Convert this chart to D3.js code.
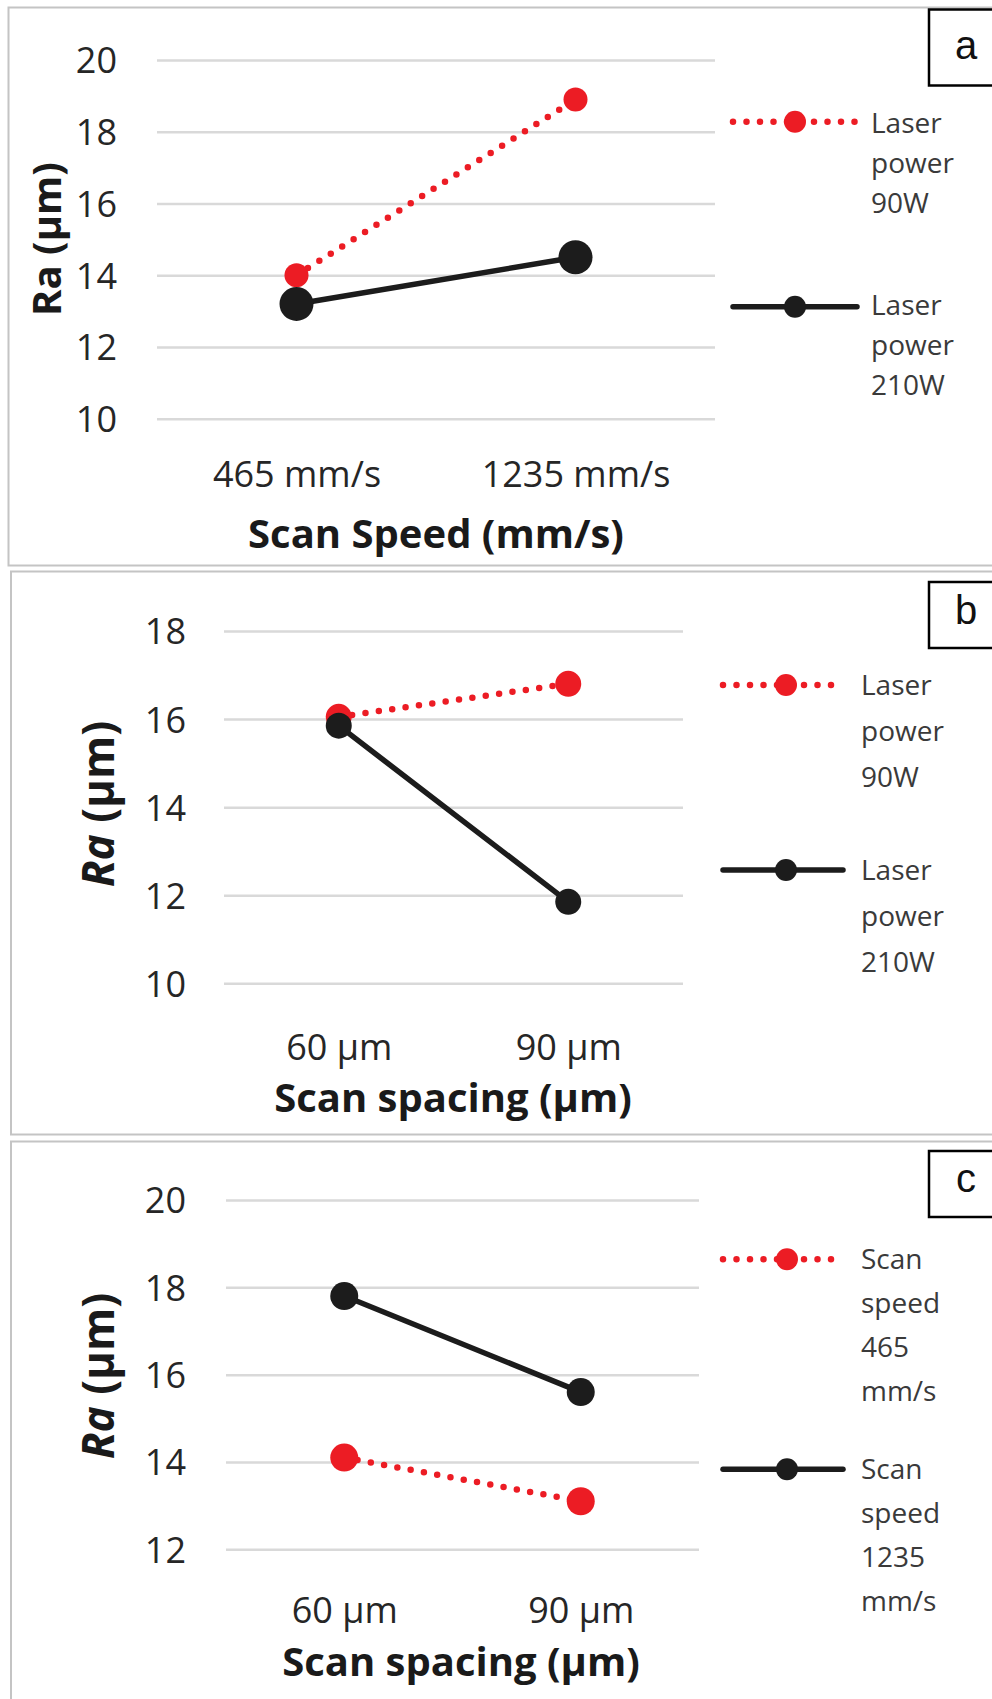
<!DOCTYPE html>
<html>
<head>
<meta charset="utf-8">
<script src="https://cdn.jsdelivr.net/npm/d3@7"></script>
<style>
  html, body { margin: 0; padding: 0; background: #fff; }
  svg { display: block; }
</style>
</head>
<body>
<svg id="fig" width="992" height="1699"></svg>
<script>
// ---- Panel (a): surface roughness vs scan speed ----
const speedCats = ["465 mm/s", "1235 mm/s"];
const ticksA = [10, 12, 14, 16, 18, 20];
const aPower90 = [14.0, 18.9];
const aPower210 = [13.2, 14.5];
const legendA = [["Laser", "power", "90W"], ["Laser", "power", "210W"]];

// ---- Panel (b): surface roughness vs scan spacing, by laser power ----
const spacingCats = ["60 µm", "90 µm"];
const ticksB = [10, 12, 14, 16, 18];
const bPower90 = [16.05, 16.8];
const bPower210 = [15.85, 11.85];
const legendB = [["Laser", "power", "90W"], ["Laser", "power", "210W"]];

// ---- Panel (c): surface roughness vs scan spacing, by scan speed ----
const ticksC = [12, 14, 16, 18, 20];
const cSpeed465 = [14.1, 13.1];
const cSpeed1235 = [17.8, 15.6];
const legendC = [["Scan", "speed", "465", "mm/s"], ["Scan", "speed", "1235", "mm/s"]];

const RED = "#ec1c24";
const BLACK = "#1c1c1c";
const GRID = "#d9d9d9";
const TEXT = "#262626";
const FONT = "'Open Sans', 'Noto Sans', sans-serif";

const svg = d3.select("#fig");
svg.append("rect").attr("width", 992).attr("height", 1699).attr("fill", "#fff");

const panels = [
  {
    letter: "a", cats: speedCats, ticks: ticksA, series: [aPower90, aPower210], legend: legendA,
    frame: { x: 8.5, y: 7.5, h: 558 },
    gx: [157, 715], gy: [418.7, 60], tickRight: 117,
    xLabelY: 487, xTitle: "Scan Speed (mm/s)", xTitleX: 436, xTitleY: 548, xTitleSize: 40,
    yTitleX: 61, yTitleY: 239, yTitleSize: 40, italicRa: false,
    radius: [12, 17],
    leg: { x0: 733, x1: 857, mx: 795, tx: 871, ly: [121.7, 306.7], tb: [133.3, 315], lh: 40, size: 28 },
    box: { y: 9.5, h: 76, base: 59 }
  },
  {
    letter: "b", cats: spacingCats, ticks: ticksB, series: [bPower90, bPower210], legend: legendB,
    frame: { x: 11, y: 571.5, h: 563 },
    gx: [224, 683], gy: [983.3, 631], tickRight: 186,
    xLabelY: 1060, xTitle: "Scan spacing (µm)", xTitleX: 453, xTitleY: 1112, xTitleSize: 40,
    yTitleX: 114, yTitleY: 804, yTitleSize: 44, italicRa: true,
    radius: [13, 13],
    leg: { x0: 723, x1: 843, mx: 786, tx: 861, ly: [685, 870], tb: [695, 880], lh: 46, size: 28 },
    box: { y: 582, h: 66, base: 624 }
  },
  {
    letter: "c", cats: spacingCats, ticks: ticksC, series: [cSpeed465, cSpeed1235], legend: legendC,
    frame: { x: 11, y: 1141.5, h: 600 },
    gx: [226, 699], gy: [1549.3, 1200], tickRight: 186,
    xLabelY: 1623, xTitle: "Scan spacing (µm)", xTitleX: 461, xTitleY: 1676, xTitleSize: 40,
    yTitleX: 114, yTitleY: 1376, yTitleSize: 44, italicRa: true,
    radius: [14, 14],
    leg: { x0: 723, x1: 843, mx: 787, tx: 861, ly: [1259.3, 1469.3], tb: [1269, 1479], lh: 44, size: 28 },
    box: { y: 1151, h: 66, base: 1192 }
  }
];

// Series styles: first series red dotted, second black solid
const styles = [
  { color: RED, width: 6.5, dash: "0 13.5", cap: "round" },
  { color: BLACK, width: 5.5, dash: null, cap: "round" }
];

function drawPanel(p) {
  const g = svg.append("g");

  // panel frame
  g.append("rect")
    .attr("x", p.frame.x).attr("y", p.frame.y)
    .attr("width", 1100).attr("height", p.frame.h)
    .attr("fill", "#fff").attr("stroke", "#c4c4c4").attr("stroke-width", 2);

  const x = d3.scalePoint().domain(p.cats).range(p.gx).padding(0.5);
  const y = d3.scaleLinear().domain(d3.extent(p.ticks)).range(p.gy);

  // value axis with horizontal gridlines
  const yAxis = d3.axisLeft(y)
    .tickValues(p.ticks)
    .tickSize(-(p.gx[1] - p.gx[0]))
    .tickPadding(p.gx[0] - p.tickRight)
    .tickFormat(d3.format("d"));
  g.append("g")
    .attr("transform", `translate(${p.gx[0]},0)`)
    .call(yAxis)
    .call(s => {
      s.select(".domain").remove();
      s.selectAll(".tick line").attr("stroke", GRID).attr("stroke-width", 2.5);
      s.selectAll(".tick text")
        .attr("font-family", FONT).attr("font-size", 36)
        .attr("fill", TEXT).attr("dy", "0.36em");
    });

  // category axis
  const xAxis = d3.axisBottom(x).tickSize(0);
  g.append("g")
    .attr("transform", `translate(0,${p.xLabelY})`)
    .call(xAxis)
    .call(s => {
      s.select(".domain").remove();
      s.selectAll(".tick text")
        .attr("y", 0).attr("dy", 0)
        .attr("font-family", FONT).attr("font-size", 36)
        .attr("fill", TEXT);
    });

  // axis titles
  g.append("text")
    .attr("x", p.xTitleX).attr("y", p.xTitleY)
    .attr("text-anchor", "middle")
    .attr("font-family", FONT).attr("font-weight", 700)
    .attr("font-size", p.xTitleSize).attr("fill", "#1a1a1a")
    .text(p.xTitle);

  const yt = g.append("text")
    .attr("transform", `translate(${p.yTitleX},${p.yTitleY}) rotate(-90)`)
    .attr("text-anchor", "middle")
    .attr("font-family", FONT).attr("font-weight", 700)
    .attr("font-size", p.yTitleSize).attr("fill", "#1a1a1a");
  yt.append("tspan").attr("font-style", p.italicRa ? "italic" : "normal").text("Ra");
  yt.append("tspan").text(" (µm)");

  // series lines and markers
  const line = d3.line().x((d, i) => x(p.cats[i])).y(d => y(d));
  p.series.forEach((vals, k) => {
    const st = styles[k];
    g.append("path")
      .datum(vals)
      .attr("d", line)
      .attr("fill", "none")
      .attr("stroke", st.color)
      .attr("stroke-width", st.width)
      .attr("stroke-linecap", st.cap)
      .attr("stroke-dasharray", st.dash);
    g.selectAll(null)
      .data(vals)
      .join("circle")
      .attr("cx", (d, i) => x(p.cats[i]))
      .attr("cy", d => y(d))
      .attr("r", p.radius[k])
      .attr("fill", st.color);
  });

  // legend
  p.legend.forEach((lines, k) => {
    const st = styles[k];
    const L = p.leg;
    const ly = L.ly[k];
    g.append("line")
      .attr("x1", L.x0).attr("x2", L.x1).attr("y1", ly).attr("y2", ly)
      .attr("stroke", st.color).attr("stroke-width", st.width)
      .attr("stroke-linecap", st.cap).attr("stroke-dasharray", st.dash);
    g.append("circle").attr("cx", L.mx).attr("cy", ly).attr("r", 11).attr("fill", st.color);
    const t = g.append("text")
      .attr("font-family", FONT).attr("font-size", L.size).attr("fill", "#3a3a3a");
    lines.forEach((s, j) => {
      t.append("tspan").attr("x", L.tx).attr("y", L.tb[k] + j * L.lh).text(s);
    });
  });

  // panel letter box
  g.append("rect")
    .attr("x", 929).attr("y", p.box.y)
    .attr("width", 80).attr("height", p.box.h)
    .attr("fill", "#fff").attr("stroke", "#000").attr("stroke-width", 2.5);
  g.append("text")
    .attr("x", 966).attr("y", p.box.base)
    .attr("text-anchor", "middle")
    .attr("font-family", "'Liberation Sans', Arial, sans-serif")
    .attr("font-size", 40).attr("fill", "#111")
    .text(p.letter);
}

panels.forEach(drawPanel);
</script>
</body>
</html>
